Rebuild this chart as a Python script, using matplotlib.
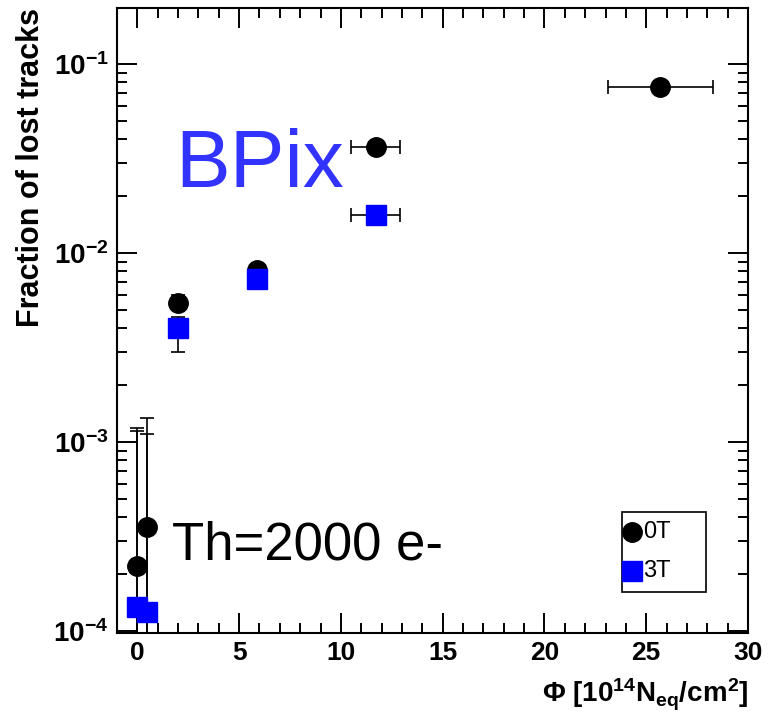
import matplotlib
matplotlib.use('agg')
import matplotlib.pyplot as plt
from matplotlib.ticker import FixedLocator, LogLocator, FuncFormatter, NullFormatter
from matplotlib.patches import Rectangle
from matplotlib.lines import Line2D
import numpy as np

plt.rcParams['font.family'] = ['Liberation Sans', 'DejaVu Sans']
plt.rcParams['mathtext.fontset'] = 'custom'
plt.rcParams['mathtext.rm'] = 'Liberation Sans'
plt.rcParams['mathtext.bf'] = 'Liberation Sans:bold'
plt.rcParams['mathtext.it'] = 'Liberation Sans:italic'

# 0T series (fluence, fraction, x error, lower / upper y bounds)
flu_0t = [0.0, 0.45, 2.0, 5.9, 11.7, 25.7]
frac_0t = [2.2e-4, 3.55e-4, 5.45e-3, 8.1e-3, 3.64e-2, 7.55e-2]
xerr_0t = [0.0, 0.0, 0.0, 0.3, 1.2, 2.6]
ylo_0t = [1e-6, 1e-6, 5.0e-3, 7.6e-3, 3.5e-2, 7.3e-2]
yhi_0t = [1.19e-3, 1.34e-3, 6.0e-3, 8.6e-3, 3.8e-2, 7.8e-2]

# 3T series
flu_3t = [0.0, 0.45, 2.0, 5.9, 11.7]
frac_3t = [1.34e-4, 1.26e-4, 4.0e-3, 7.3e-3, 1.59e-2]
xerr_3t = [0.0, 0.0, 0.0, 0.3, 1.2]
ylo_3t = [1e-6, 1e-6, 3.0e-3, 6.9e-3, 1.5e-2]
yhi_3t = [1.14e-3, 1.10e-3, 4.6e-3, 7.7e-3, 1.7e-2]

legend_labels = ["0T", "3T"]

fig = plt.figure(figsize=(7.74, 7.14), dpi=100)
ax = fig.add_axes([117/774, 1 - 633/714, 631/774, 625/714])

def yerr(frac, lo, hi):
    frac = np.array(frac)
    return [frac - np.array(lo), np.array(hi) - frac]

ax.errorbar(flu_0t, frac_0t, xerr=xerr_0t, yerr=yerr(frac_0t, ylo_0t, yhi_0t),
            fmt='o', color='black', ms=14, elinewidth=1.2, capsize=5,
            capthick=1.2, zorder=3)
ax.errorbar(flu_3t, frac_3t, xerr=xerr_3t, yerr=yerr(frac_3t, ylo_3t, yhi_3t),
            fmt='s', color='#0000ff', mec='#0000ff', ecolor='black', ms=14.5,
            elinewidth=1.2, capsize=5, capthick=1.2, zorder=4)

ax.set_yscale('log')
ax.set_xlim(-1, 30)
ax.set_ylim(0.975e-4, 0.198)

ax.xaxis.set_major_locator(FixedLocator([0, 5, 10, 15, 20, 25, 30]))
ax.xaxis.set_minor_locator(FixedLocator(np.arange(0, 31, 1)))
ax.yaxis.set_major_locator(LogLocator(base=10, numticks=10))
ax.yaxis.set_minor_locator(LogLocator(base=10, subs=np.arange(2, 10), numticks=20))
ax.yaxis.set_minor_formatter(NullFormatter())
ax.yaxis.set_major_formatter(FuncFormatter(
    lambda v, p: r'$\mathbf{10^{%d}}$' % int(round(np.log10(v)))))

ax.tick_params(which='both', direction='in', top=True, right=True, width=1.4)
ax.tick_params(which='major', length=14.5)
ax.tick_params(which='minor', length=7)
ax.tick_params(axis='x', labelsize=19, pad=6)
ax.tick_params(axis='y', labelsize=20, pad=6)
for lab in ax.get_xticklabels():
    lab.set_fontweight('bold')
for sp in ax.spines.values():
    sp.set_linewidth(1.5)

ax.set_ylabel("Fraction of lost tracks", fontsize=22, fontweight='bold')
ax.yaxis.set_label_coords(-0.112, 1.0)
ax.yaxis.label.set_ha('right')

ax.set_xlabel(r'Φ [10$^{\mathbf{14}}$N$_{\mathbf{eq}}$/cm$^{\mathbf{2}}$]',
              fontsize=20, fontweight='bold')
ax.xaxis.set_label_coords(1.0, -0.07)
ax.xaxis.label.set_ha('right')

ax.text(0.092, 0.713, "BPix", transform=ax.transAxes, fontsize=59,
        color='#3333ff', ha='left', va='baseline')
ax.text(0.087, 0.117, "Th=2000 e-", transform=ax.transAxes, fontsize=38,
        color='black', ha='left', va='baseline')

# legend box drawn by hand, ROOT style
lx0, lx1 = (622 - 117) / 631, (706 - 117) / 631
ly0, ly1 = (633 - 592) / 625, (633 - 512) / 625
ax.add_patch(Rectangle((lx0, ly0), lx1 - lx0, ly1 - ly0, transform=ax.transAxes,
                       fill=False, edgecolor='black', lw=1.2, zorder=5))
leg_y = [(633 - 532) / 625, (633 - 571) / 625]
ax.add_line(Line2D([lx0 + 0.016], [leg_y[0]], marker='o', color='black', ms=14,
                   transform=ax.transAxes, zorder=6))
ax.add_line(Line2D([lx0 + 0.016], [leg_y[1]], marker='s', color='#0000ff', ms=14,
                   transform=ax.transAxes, zorder=6))
for lab, yy in zip(legend_labels, leg_y):
    ax.text(lx0 + 0.033, yy, lab, transform=ax.transAxes, fontsize=17,
            va='center', ha='left')

fig.savefig("out.png", dpi=100)
